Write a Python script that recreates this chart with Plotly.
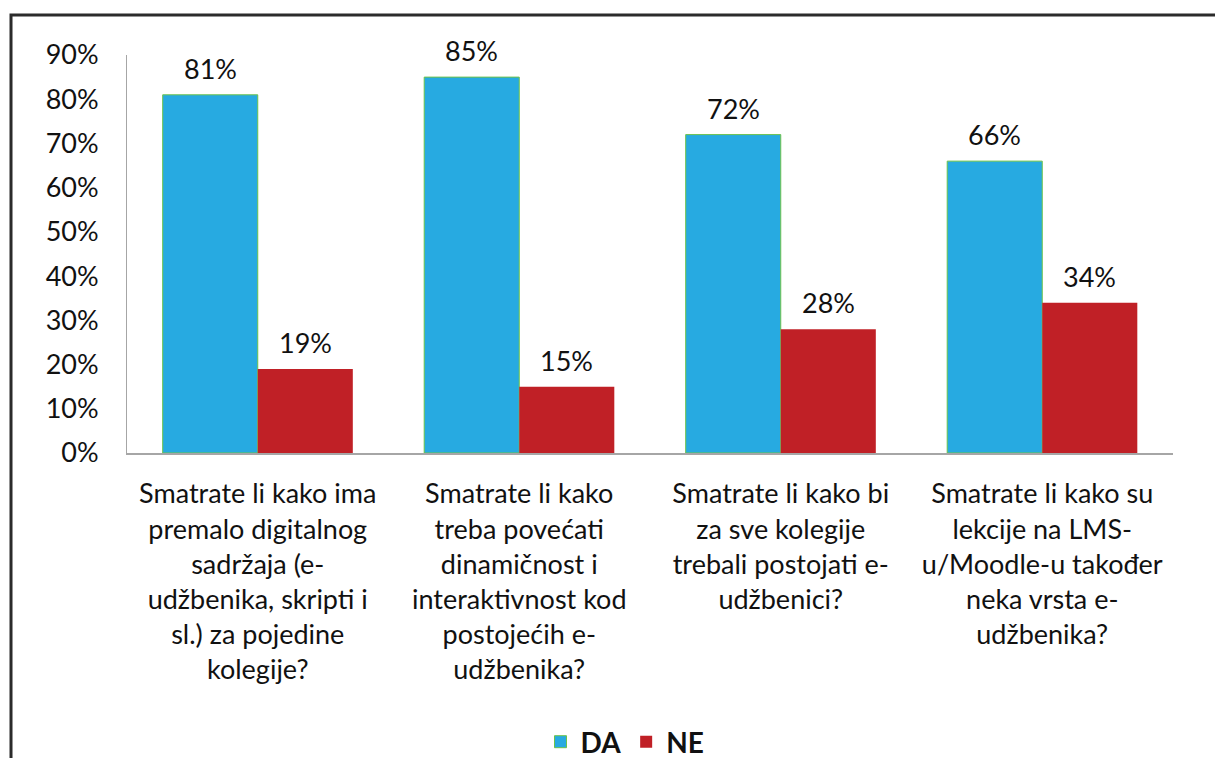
import plotly.graph_objects as go

categories = [
    "Smatrate li kako ima<br>premalo digitalnog<br>sadržaja (e-<br>udžbenika, skripti i<br>sl.) za pojedine<br>kolegije?",
    "Smatrate li kako<br>treba povećati<br>dinamičnost i<br>interaktivnost kod<br>postojećih e-<br>udžbenika?",
    "Smatrate li kako bi<br>za sve kolegije<br>trebali postojati e-<br>udžbenici?",
    "Smatrate li kako su<br>lekcije na LMS-<br>u/Moodle-u također<br>neka vrsta e-<br>udžbenika?",
]
da_values = [0.81, 0.85, 0.72, 0.66]
ne_values = [0.19, 0.15, 0.28, 0.34]
y_ticks = [0, 0.1, 0.2, 0.3, 0.4, 0.5, 0.6, 0.7, 0.8, 0.9]

FONT = "Lato"
OFF = 8  # default body margin of the html page
W, H = 1223 - OFF, 758 - OFF
L, T = 127 - OFF, 55 - OFF
R = W - (1173 - OFF)
B = H - (453 - OFF)
pw, ph = W - L - R, H - T - B
BARGAP = 0.273
bar_px = pw / len(categories) * (1 - BARGAP) / 2

fig = go.Figure()
fig.add_trace(go.Bar(
    x=categories, y=da_values, name="DA",
    marker=dict(color="#27AAE1", line=dict(color="#6CC24A", width=1)),
))
fig.add_trace(go.Bar(
    x=categories, y=ne_values, name="NE",
    marker=dict(color="#C02026", line=dict(width=0)),
))

for vals, sign in ((da_values, -1), (ne_values, 1)):
    for c, v in zip(categories, vals):
        fig.add_annotation(x=c, y=v, text=f"{round(v*100)}%", showarrow=False,
                           xanchor="center", yanchor="bottom",
                           xshift=sign * bar_px / 2, yshift=8,
                           font=dict(size=27, family=FONT, color="#111111"))

def px2x(px):
    return (px - OFF - L) / pw

def px2y(py):
    return (H - B - (py - OFF)) / ph

fig.add_shape(type="rect", xref="paper", yref="paper",
              x0=px2x(11), x1=px2x(1260), y0=px2y(800), y1=px2y(15),
              line=dict(color="#2b2b2b", width=3), layer="below")

fig.update_layout(
    width=W, height=H,
    margin=dict(l=L, r=R, t=T, b=B, autoexpand=False),
    paper_bgcolor="white", plot_bgcolor="white",
    barmode="group", bargap=BARGAP, bargroupgap=0,
    font=dict(family=FONT, size=27, color="#111111"),
    showlegend=True,
    legend=dict(orientation="h", xref="container", yref="container",
                x=(625 - OFF) / W, y=1 - (742 - OFF) / H,
                xanchor="center", yanchor="middle",
                font=dict(size=28, family=FONT, weight="bold", color="#111111"),
                traceorder="normal"),
    xaxis=dict(showline=True, linecolor="#A6A6A6", linewidth=2, showgrid=False,
               automargin=False,
               ticks="outside", ticklen=16, tickcolor="rgba(0,0,0,0)",
               tickfont=dict(size=27, family=FONT, color="#111111")),
    yaxis=dict(range=[0, 0.9], tickvals=y_ticks, tickformat=".0%",
               automargin=False,
               showline=True, linecolor="#A6A6A6", linewidth=1, showgrid=False, zeroline=False,
               ticks="outside", ticklen=22, tickcolor="rgba(0,0,0,0)",
               tickfont=dict(size=27, family=FONT, color="#111111")),
)

fig.write_html("out.html")
